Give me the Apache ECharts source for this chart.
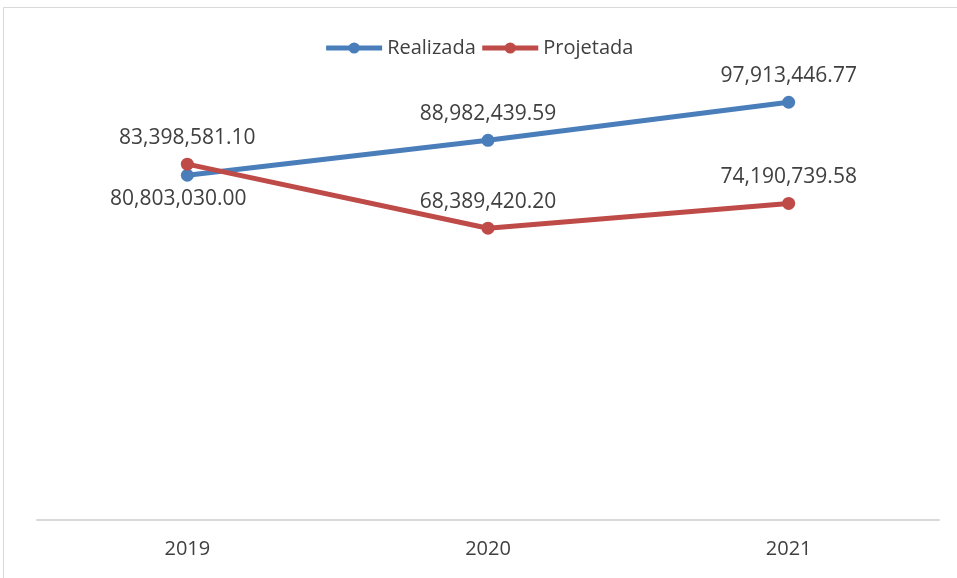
<!DOCTYPE html>
<html>
<head>
<meta charset="utf-8">
<script src="https://cdn.jsdelivr.net/npm/echarts@6/dist/echarts.min.js"></script>
<style>
  html, body { margin: 0; padding: 0; background: #fff; }
  #chart { width: 957px; height: 578px; }
</style>
</head>
<body>
<div id="chart"></div>
<script>
const years = ['2019', '2020', '2021'];
const realizada = [80803030.00, 88982439.59, 97913446.77];
const projetada = [83398581.10, 68389420.20, 74190739.58];

const blue = '#4a7ebb';
const red = '#be4b48';
const textColor = '#404040';
const font = 'Open Sans';

const fmt = v => v.toLocaleString('en-US', { minimumFractionDigits: 2, maximumFractionDigits: 2 });

const chart = echarts.init(document.getElementById('chart'));

const labelBase = {
    show: true,
    position: 'top',
    distance: 9,
    color: textColor,
    fontSize: 21,
    formatter: p => fmt(p.value)
};

chart.setOption({
    animation: false,
    textStyle: { fontFamily: font },
    graphic: [{
        type: 'rect',
        shape: { x: 3.5, y: 7.5, width: 1000, height: 600 },
        style: { fill: 'none', stroke: '#d9d9d9', lineWidth: 1 },
        silent: true
    }],
    legend: {
        top: 33,
        left: 'center',
        itemWidth: 56,
        itemHeight: 14,
        itemGap: 4,
        lineStyle: { width: 5 },
        textStyle: { color: textColor, fontSize: 20, fontFamily: font },
        data: ['Realizada', 'Projetada']
    },
    grid: { left: 37, right: 18, top: 8, bottom: 58 },
    xAxis: {
        type: 'category',
        data: years,
        axisLine: { lineStyle: { color: '#d9d9d9', width: 2 } },
        axisTick: { show: false },
        axisLabel: { color: textColor, fontSize: 20, margin: 19 }
    },
    yAxis: {
        type: 'value',
        min: 0,
        max: 120000000,
        show: false,
        splitLine: { show: false }
    },
    series: [
        {
            name: 'Realizada',
            type: 'line',
            symbol: 'circle',
            symbolSize: 13,
            lineStyle: { width: 5, color: blue },
            itemStyle: { color: blue },
            label: labelBase,
            data: realizada.map((v, i) => i === 0
                ? { value: v, label: { position: 'bottom', distance: 7, offset: [-9, 0] } }
                : v)
        },
        {
            name: 'Projetada',
            type: 'line',
            symbol: 'circle',
            symbolSize: 13,
            lineStyle: { width: 5, color: red },
            itemStyle: { color: red },
            label: labelBase,
            data: projetada
        }
    ]
});
</script>
</body>
</html>
